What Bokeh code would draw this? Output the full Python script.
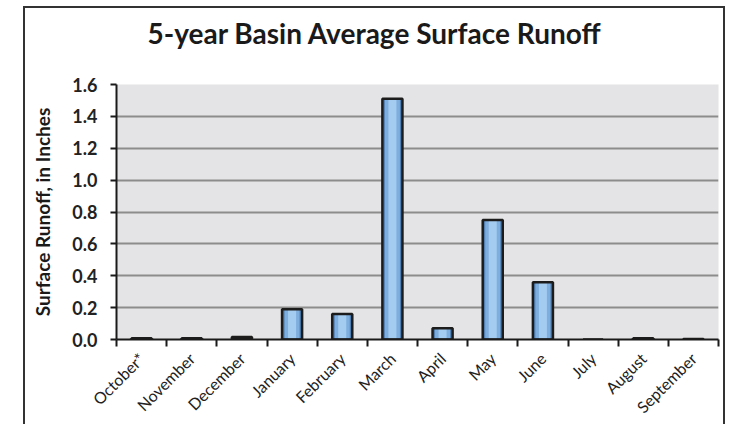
import math
from bokeh.plotting import figure
from bokeh.models import Range1d, FixedTicker, Title, NumeralTickFormatter
from bokeh.embed import file_html
from bokeh.resources import INLINE

months = ["October*", "November", "December", "January", "February", "March",
          "April", "May", "June", "July", "August", "September"]
runoff = [0.008, 0.008, 0.015, 0.19, 0.16, 1.51, 0.07, 0.75, 0.36, 0.0, 0.008, 0.003]
y_ticks = [0.0, 0.2, 0.4, 0.6, 0.8, 1.0, 1.2, 1.4, 1.6]
title_text = "5-year Basin Average Surface Runoff"

xs = [i + 0.5 for i in range(len(months))]
bounds = list(range(len(months) + 1))

FONT = "Lato"

p = figure(width=702, height=418, output_backend="svg", toolbar_location=None,
           x_range=Range1d(0, len(months)), y_range=Range1d(0, 1.6),
           min_border_left=91, min_border_right=9, min_border_top=76, min_border_bottom=87)
p.margin = (6, 0, 0, 23)
p.styles = {"border-top": "2px solid #333", "border-left": "2px solid #333",
            "border-right": "2px solid #333", "box-sizing": "border-box"}

# spacer between the title and the plot area (closest to the frame)
p.add_layout(Title(text=" ", text_font_size="10px", standoff=17), "above")
# main title (outermost)
p.title = Title(text=title_text, align="left", offset=31,
                text_font=FONT, text_font_size="28px", text_font_style="bold",
                text_color="#1a1a1a", standoff=9)

p.background_fill_color = "#E4E4E6"
p.border_fill_color = "white"
p.outline_line_color = None

p.xgrid.visible = False
p.ygrid.ticker = FixedTicker(ticks=y_ticks)
p.ygrid.grid_line_color = "#8C8C8C"
p.ygrid.grid_line_width = 2

# bars with a simple gradient-like shading
w = 0.4
p.vbar(x=xs, top=runoff, width=w, fill_color="#4F7FB3", line_color=None)
p.vbar(x=xs, top=runoff, width=w * 0.75, fill_color="#7EAEDD", line_color=None)
p.vbar(x=xs, top=runoff, width=w * 0.4, fill_color="#A4CCF0", line_color=None)
p.vbar(x=xs, top=runoff, width=w, fill_alpha=0, line_color="#1c1c1c", line_width=2.5)

# y axis
ya = p.yaxis[0]
ya.ticker = FixedTicker(ticks=y_ticks)
ya.formatter = NumeralTickFormatter(format="0.0")
ya.axis_label = "Surface Runoff, in Inches"
ya.axis_label_text_font = FONT
ya.axis_label_text_font_size = "19px"
ya.axis_label_text_font_style = "bold"
ya.axis_label_text_color = "#1a1a1a"
ya.axis_label_standoff = 15
ya.major_label_text_font = FONT
ya.major_label_text_font_size = "18px"
ya.major_label_text_font_style = "bold"
ya.major_label_text_color = "#222222"
ya.major_label_standoff = 13
ya.major_tick_in = 0
ya.major_tick_out = 6
ya.major_tick_line_width = 2
ya.major_tick_line_color = "#1a1a1a"
ya.minor_tick_line_color = None
ya.axis_line_width = 2
ya.axis_line_color = "#1a1a1a"

# x axis: labels at centres, boundary tick marks
xa = p.xaxis[0]
xa.ticker = FixedTicker(ticks=xs, minor_ticks=bounds)
xa.major_label_overrides = {x: m for x, m in zip(xs, months)}
xa.major_label_orientation = math.pi / 4
xa.major_label_text_font = FONT
xa.major_label_text_font_size = "16px"
xa.major_label_text_color = "#222222"
xa.major_label_standoff = 9
xa.major_tick_line_color = None
xa.major_tick_out = 6
xa.major_tick_in = 0
xa.minor_tick_out = 7
xa.minor_tick_in = 0
xa.minor_tick_line_width = 2
xa.minor_tick_line_color = "#1a1a1a"
xa.axis_line_width = 2
xa.axis_line_color = "#1a1a1a"

open("out.html", "w").write(file_html(p, INLINE))
